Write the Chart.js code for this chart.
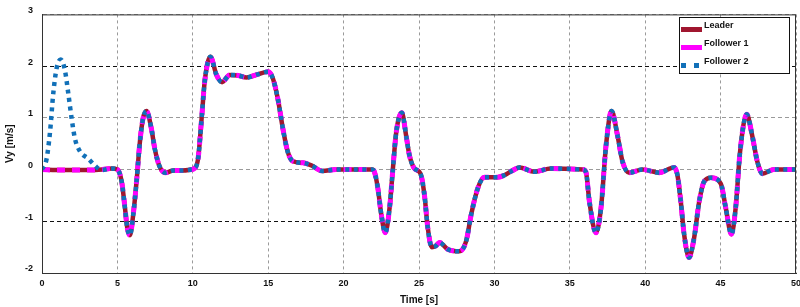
<!DOCTYPE html>
<html>
<head>
<meta charset="utf-8">
<script src="https://cdn.jsdelivr.net/npm/chart.js@4"></script>
<style>
  html, body { margin: 0; padding: 0; background: #fff; }
  #wrap { width: 800px; height: 307px; }
</style>
</head>
<body>
<div id="wrap"><canvas id="vyChart" width="800" height="307"></canvas></div>
<script>
// leader velocity Vy [m/s]
const leaderTime = [0, 1, 2, 3, 4, 4.6, 5.0, 5.28, 5.5, 5.65, 5.83, 6.05, 6.27, 6.49, 6.71, 6.93, 7.26, 7.48, 7.81, 8.2, 8.7, 9.3, 9.9,
    10.1, 10.35, 10.58, 10.8, 11.17, 11.57, 11.94, 12.45, 13.0, 13.56, 14.3, 14.99, 15.3, 15.65, 15.98, 16.3, 16.64, 17.3, 17.86, 18.6, 19.5,
    21.9, 22.05, 22.27, 22.5, 22.76, 23.05, 23.27, 23.49, 23.86, 24.15, 24.37, 24.7, 25.1, 25.36, 25.58, 25.85, 26.1, 26.36, 26.9, 27.68,
    28.13, 28.46, 28.9, 29.34, 30.2, 30.66, 31.2, 31.66, 32.65, 33.75, 35.85, 36.07, 36.3, 36.73, 37.07, 37.4, 37.77, 38.17, 38.5, 38.94,
    39.82, 40.93, 41.92, 42.14, 42.36, 42.58, 42.91, 43.25, 43.58, 43.91, 44.35, 45.01, 45.34, 45.72, 46.0, 46.29, 46.73, 47.1, 47.44,
    47.77, 48.54, 50];
const leaderVy = [0, -0.01, -0.01, -0.01, 0, 0.02, 0, -0.23, -0.74, -1.12, -1.27, -0.87, -0.23, 0.53, 1.0, 1.13, 0.78, 0.4, 0.05, -0.06, -0.02, -0.02, 0,
    0.02, 0.21, 0.97, 1.73, 2.18, 1.83, 1.69, 1.83, 1.82, 1.78, 1.84, 1.89, 1.77, 1.35, 0.78, 0.34, 0.16, 0.13, 0.08, -0.03, 0,
    0, -0.05, -0.36, -0.87, -1.22, -0.74, 0.02, 0.72, 1.10, 0.65, 0.27, 0.02, -0.08, -0.49, -1.12, -1.50, -1.48, -1.41, -1.54, -1.58,
    -1.38, -0.87, -0.36, -0.15, -0.15, -0.11, -0.02, 0.04, -0.04, 0.02, 0, -0.05, -0.62, -1.22, -0.74, 0.46, 1.13, 0.65, 0.15, -0.06,
    0, -0.06, 0.04, -0.11, -0.62, -1.25, -1.70, -1.31, -0.62, -0.23, -0.16, -0.27, -0.74, -1.25, -0.74, 0.34, 1.07, 0.65, 0.15,
    -0.08, 0, 0];

// follower 1 tracks the leader exactly
const follower1Time = leaderTime;
const follower1Vy = leaderVy;

// follower 2 starts with its own transient, then joins the leader
const follower2StartTime = [0, 0.3, 0.53, 0.75, 0.97, 1.24, 1.52, 1.74, 1.96, 2.19, 2.52, 3.07, 3.5, 3.95];
const follower2StartVy = [0, 0.2, 0.72, 1.48, 1.96, 2.13, 1.92, 1.48, 1.0, 0.59, 0.35, 0.21, 0.08, -0.01];

const xTicks = [0, 5, 10, 15, 20, 25, 30, 35, 40, 45, 50];
const yTicks = [-2, -1, 0, 1, 2, 3];

function toPoints(ts, vs) {
    return ts.map((t, i) => ({ x: t, y: vs[i] }));
}

const follower2Points = toPoints(follower2StartTime, follower2StartVy)
    .concat(toPoints(leaderTime, leaderVy).filter((p) => p.x > 4.5));

// boxed legend in the upper right, like the original figure
const boxLegend = {
    id: "boxLegend",
    afterDraw(chart) {
        const ctx = chart.ctx;
        const area = chart.chartArea;
        ctx.save();
        // frame round the plot
        ctx.strokeStyle = "#333";
        ctx.lineWidth = 1;
        ctx.setLineDash([]);
        ctx.strokeRect(area.left + 0.5, area.top + 0.5, area.right - area.left - 1, area.bottom - area.top);

        const bx = 679, by = 17, bw = 110, bh = 56;
        ctx.fillStyle = "#fff";
        ctx.fillRect(bx, by, bw, bh);
        ctx.strokeStyle = "#111";
        ctx.strokeRect(bx + 0.5, by + 0.5, bw, bh);

        ctx.font = "bold 9px 'Liberation Sans', Arial, sans-serif";
        ctx.textBaseline = "middle";
        chart.data.datasets.forEach((ds, i) => {
            const y = by + 9 + i * 18;
            if (ds.label === "Follower 2") {
                ctx.fillStyle = ds.borderColor;
                ctx.fillRect(bx + 2, y + 1, 5, 5);
                ctx.fillRect(bx + 15, y + 1, 5, 5);
            } else {
                ctx.fillStyle = ds.borderColor;
                ctx.fillRect(bx + 2, y + 1, 21, 5);
            }
            ctx.fillStyle = "#111";
            ctx.fillText(ds.label, bx + 25, y);
        });
        ctx.restore();
    },
};

const tickFont = { family: "'Liberation Sans', Arial, sans-serif", size: 9, weight: "bold" };
const titleFont = { family: "'Liberation Sans', Arial, sans-serif", size: 10, weight: "bold" };

new Chart(document.getElementById("vyChart").getContext("2d"), {
    type: "line",
    data: {
        datasets: [
            {
                label: "Leader",
                data: toPoints(leaderTime, leaderVy),
                borderColor: "#a0162f",
                borderWidth: 4.5,
                order: 3,
            },
            {
                label: "Follower 1",
                data: toPoints(follower1Time, follower1Vy),
                borderColor: "#ff00ff",
                borderWidth: 5,
                borderDash: [8, 7],
                order: 2,
            },
            {
                label: "Follower 2",
                data: follower2Points,
                borderColor: "#1170b8",
                borderWidth: 4.5,
                borderDash: [4, 4.5],
                order: 1,
            },
        ],
    },
    options: {
        responsive: false,
        animation: false,
        parsing: true,
        layout: { padding: { top: 10, right: 4, left: 0, bottom: 0 } },
        elements: {
            point: { radius: 0 },
            line: { cubicInterpolationMode: "monotone", fill: false, borderCapStyle: "butt" },
        },
        plugins: {
            legend: { display: false },
            tooltip: { enabled: false },
        },
        scales: {
            x: {
                type: "linear",
                min: 0,
                max: 50,
                afterBuildTicks: (s) => { s.ticks = xTicks.map((v) => ({ value: v })); },
                afterFit: (s) => { s.height = 34; s.paddingLeft = 0; s.paddingRight = 0; },
                ticks: { font: tickFont, color: "#111", padding: 5, maxRotation: 0 },
                grid: { color: "#9a9a9a", lineWidth: 1, drawTicks: false, borderDash: [3, 3] },
                border: { color: "#333", width: 1, dash: [3, 3] },
                title: { display: true, text: "Time [s]", font: titleFont, color: "#111", padding: { top: 0, bottom: 1 } },
            },
            y: {
                min: -2,
                max: 3,
                afterBuildTicks: (s) => { s.ticks = yTicks.map((v) => ({ value: v })); },
                afterFit: (s) => { s.width = 42; },
                ticks: { font: tickFont, color: "#111", padding: 9, labelOffset: -4 },
                grid: {
                    color: (c) => (c.tick && (c.tick.value === 2 || c.tick.value === -1) ? "#111" : "#9a9a9a"),
                    lineWidth: 1,
                    drawTicks: false,
                    borderDash: [4, 3],
                },
                border: { color: "#333", width: 1, dash: [4, 3] },
                title: { display: true, text: "Vy [m/s]", font: titleFont, color: "#111", padding: { top: 4, bottom: 0 } },
            },
        },
    },
    plugins: [boxLegend],
});
</script>
</body>
</html>
